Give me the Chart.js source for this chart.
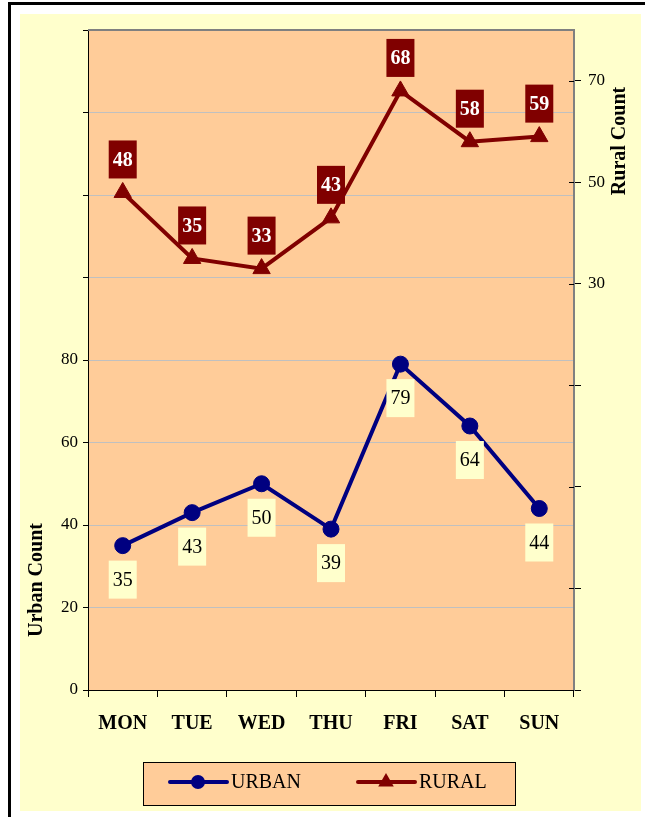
<!DOCTYPE html>
<html>
<head>
<meta charset="utf-8">
<title>Urban / Rural Count</title>
<script src="https://cdn.jsdelivr.net/npm/chart.js@4.4.0/dist/chart.umd.min.js"></script>
<style>
  html, body { margin: 0; padding: 0; background: #fff; }
  #wrap { width: 645px; height: 817px; }
</style>
</head>
<body>
<div id="wrap"><canvas id="chart" width="645" height="817"></canvas></div>
<script>
// ======== Data ========
const days = ['MON', 'TUE', 'WED', 'THU', 'FRI', 'SAT', 'SUN'];
const urbanCounts = [35, 43, 50, 39, 79, 64, 44];
const ruralCounts = [48, 35, 33, 43, 68, 58, 59];

const urbanTicks = [0, 20, 40, 60, 80, 100, 120, 140, 160];
const urbanTickLabels = ['0', '20', '40', '60', '80', '', '', '', ''];
const ruralTicks = [-50, -30, -10, 10, 30, 50, 70];
const ruralTickLabels = ['', '', '', '', '30', '50', '70'];

// ======== Styles ========
const SERIF = '"Liberation Serif", "Times New Roman", serif';
const PEACH = '#FFCC99';
const PALE = '#FFFFCC';
const NAVY = '#000080';
const MAROON = '#800000';

// ======== Plugins ========
const framePlugin = {
  id: 'frame',
  beforeDraw(chart) {
    const ctx = chart.ctx;
    const a = chart.chartArea;
    ctx.save();
    ctx.fillStyle = '#fff';
    ctx.fillRect(0, 0, chart.width, chart.height);
    ctx.fillStyle = '#000';
    ctx.fillRect(8, 2, 637, 3);
    ctx.fillRect(8, 2, 3, 815);
    ctx.fillStyle = PALE;
    ctx.fillRect(20, 14, 621, 797);
    ctx.fillStyle = PEACH;
    ctx.fillRect(a.left, a.top, a.right - a.left, a.bottom - a.top);
    ctx.restore();
  },
  afterDraw(chart) {
    const ctx = chart.ctx;
    const a = chart.chartArea;
    ctx.save();
    // grey top edge of the plot
    ctx.strokeStyle = '#808080';
    ctx.lineWidth = 2;
    ctx.beginPath();
    ctx.moveTo(a.left, a.top);
    ctx.lineTo(a.right, a.top);
    ctx.stroke();
    // inner half of the right axis tick marks
    const y1 = chart.scales.y1;
    ctx.strokeStyle = '#000';
    ctx.lineWidth = 1;
    ruralTicks.forEach(v => {
      const py = Math.round(y1.getPixelForValue(v)) + 0.5;
      ctx.beginPath();
      ctx.moveTo(a.right - 5, py);
      ctx.lineTo(a.right, py);
      ctx.stroke();
    });
    ctx.restore();
  }
};

const labelPlugin = {
  id: 'pointLabels',
  afterDatasetsDraw(chart) {
    const ctx = chart.ctx;
    ctx.save();
    ctx.textAlign = 'center';
    ctx.textBaseline = 'middle';
    chart.data.datasets.forEach((ds, i) => {
      const meta = chart.getDatasetMeta(i);
      const urban = ds.yAxisID === 'y';
      meta.data.forEach((pt, j) => {
        const cy = urban ? pt.y + 34 : pt.y - 33;
        ctx.fillStyle = urban ? PALE : MAROON;
        ctx.fillRect(pt.x - 14, cy - 19, 28, 38);
        ctx.fillStyle = urban ? '#000' : '#fff';
        ctx.font = (urban ? '' : 'bold ') + '20px ' + SERIF;
        ctx.fillText(String(ds.data[j]), pt.x, cy + 1);
      });
    });
    ctx.restore();
  }
};

const legendPlugin = {
  id: 'boxLegend',
  afterDraw(chart) {
    const ctx = chart.ctx;
    ctx.save();
    ctx.fillStyle = PEACH;
    ctx.fillRect(143, 762, 372, 43);
    ctx.strokeStyle = '#000';
    ctx.lineWidth = 1;
    ctx.strokeRect(143.5, 762.5, 372, 43);

    const items = [
      { x: 170, ds: chart.data.datasets[0] },
      { x: 358, ds: chart.data.datasets[1] }
    ];
    const cy = 782;
    items.forEach(it => {
      ctx.strokeStyle = it.ds.borderColor;
      ctx.lineWidth = 4;
      ctx.lineCap = 'round';
      ctx.beginPath();
      ctx.moveTo(it.x, cy);
      ctx.lineTo(it.x + 57, cy);
      ctx.stroke();
      ctx.fillStyle = it.ds.borderColor;
      ctx.lineWidth = 1;
      Chart.helpers.drawPoint(ctx, {
        pointStyle: it.ds.pointStyle,
        radius: it.ds.pointStyle === 'triangle' ? 9 : 7,
        rotation: 0
      }, it.x + 28, cy);
      ctx.fillStyle = '#000';
      ctx.font = '20px ' + SERIF;
      ctx.textAlign = 'left';
      ctx.textBaseline = 'middle';
      ctx.fillText(it.ds.label, it.x + 61, cy + 1);
    });
    ctx.restore();
  }
};

const axisTitlePlugin = {
  id: 'axisTitles',
  afterDraw(chart) {
    const ctx = chart.ctx;
    ctx.save();
    ctx.fillStyle = '#000';
    ctx.font = 'bold 20px ' + SERIF;
    ctx.textAlign = 'center';
    ctx.textBaseline = 'middle';
    ctx.translate(37, 580);
    ctx.rotate(-Math.PI / 2);
    ctx.fillText('Urban Count', 0, 0);
    ctx.restore();

    ctx.save();
    ctx.fillStyle = '#000';
    ctx.font = 'bold 20px ' + SERIF;
    ctx.textAlign = 'center';
    ctx.textBaseline = 'middle';
    ctx.translate(620, 141);
    ctx.rotate(-Math.PI / 2);
    ctx.fillText('Rural Count', 0, 0);
    ctx.restore();
  }
};

// ======== Chart ========
const ctx = document.getElementById('chart').getContext('2d');

new Chart(ctx, {
  type: 'line',
  data: {
    labels: days,
    datasets: [
      {
        label: 'URBAN',
        data: urbanCounts,
        yAxisID: 'y',
        borderColor: NAVY,
        backgroundColor: NAVY,
        borderWidth: 4,
        pointStyle: 'circle',
        pointRadius: 8,
        pointBorderWidth: 1,
        pointBackgroundColor: NAVY,
        pointBorderColor: NAVY,
        tension: 0
      },
      {
        label: 'RURAL',
        data: ruralCounts,
        yAxisID: 'y1',
        borderColor: MAROON,
        backgroundColor: MAROON,
        borderWidth: 4,
        pointStyle: 'triangle',
        pointRadius: 10,
        pointBorderWidth: 1,
        pointBackgroundColor: MAROON,
        pointBorderColor: MAROON,
        tension: 0
      }
    ]
  },
  options: {
    responsive: false,
    animation: false,
    devicePixelRatio: 1,
    layout: { padding: { top: 30, left: 0, right: 0, bottom: 0 } },
    plugins: {
      legend: { display: false },
      tooltip: { enabled: false },
      title: { display: false }
    },
    scales: {
      x: {
        type: 'category',
        position: 'bottom',
        offset: true,
        grid: {
          offset: true,
          drawOnChartArea: false,
          tickLength: 7,
          tickColor: '#000',
          color: '#000'
        },
        border: { color: '#000', width: 1 },
        ticks: {
          color: '#000',
          font: { family: SERIF, size: 20, weight: 'bold' },
          padding: 15,
          maxRotation: 0
        },
        afterFit: s => { s.height = 127; }
      },
      y: {
        position: 'left',
        min: 0,
        max: 160,
        afterBuildTicks: s => { s.ticks = urbanTicks.map(v => ({ value: v })); },
        ticks: {
          color: '#000',
          font: { family: SERIF, size: 17 },
          padding: 5,
          callback: (v, i) => urbanTickLabels[i]
        },
        grid: {
          color: c => (c.tick && (c.tick.value === 0 || c.tick.value === 160)) ? 'rgba(0,0,0,0)' : '#C0C0C0',
          lineWidth: 1,
          tickLength: 5,
          tickColor: '#000'
        },
        border: { color: '#000', width: 1 },
        afterFit: s => { s.width = 88; }
      },
      y1: {
        position: 'right',
        min: -50,
        max: 80,
        afterBuildTicks: s => { s.ticks = ruralTicks.map(v => ({ value: v })); },
        ticks: {
          color: '#000',
          font: { family: SERIF, size: 17 },
          padding: 7,
          callback: (v, i) => ruralTickLabels[i]
        },
        grid: {
          drawOnChartArea: false,
          tickLength: 7,
          tickColor: '#000'
        },
        border: { color: '#808080', width: 2 },
        afterFit: s => { s.width = 71; }
      }
    }
  },
  plugins: [framePlugin, labelPlugin, legendPlugin, axisTitlePlugin]
});
</script>
</body>
</html>
